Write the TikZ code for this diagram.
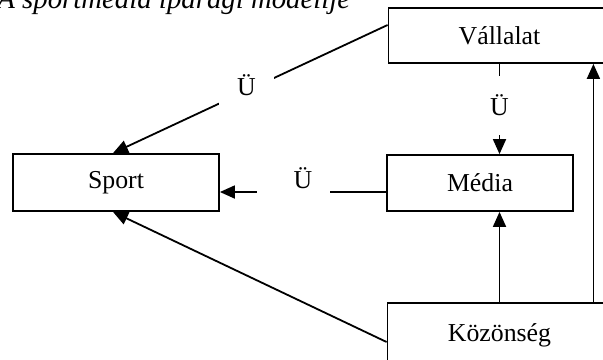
\documentclass[tikz,border=0pt]{standalone}
\usepackage{fontspec}
\setmainfont{Liberation Serif}
\usetikzlibrary{arrows.meta}
\begin{document}
\begin{tikzpicture}[x=0.5pt,y=-0.5pt,
  box/.style={draw, line width=0.9pt, inner sep=0pt, font=\fontsize{12.9}{15}\selectfont},
  conn/.style={line width=0.9pt},
  arr/.style={conn, -{Triangle[length=7.5pt,width=6.5pt]}},
  lab/.style={fill=white, inner sep=0pt, font=\fontsize{12.9}{15}\selectfont}]
\useasboundingbox (0,0) rectangle (603,359);
\fill[white] (0,0) rectangle (603,359);
% title
\node[anchor=base west, inner sep=0pt, font=\fontsize{14.4}{16}\selectfont\itshape] (title) at (-3,8) {A sportmédia iparági modellje};
% boxes
\node[box, minimum width=111pt, minimum height=27.5pt] (V) at (499.5,35.5) {Vállalat};
\node[box, minimum width=103pt, minimum height=28.5pt] (S) at (116,182.5) {Sport};
\node[box, minimum width=93pt, minimum height=28pt] (M) at (480,183) {Média};
\node[box, minimum width=112pt, minimum height=30pt, text depth=0pt] (K) at (499.5,333) {Közönség};
% connectors
\draw[arr] ([yshift=5.25pt]V.west) -- ([xshift=-1.5pt]S.north);
\node[lab, minimum width=27.5pt, minimum height=15pt, text height=6pt, text depth=2pt] (l1) at (246.5,91) {Ü};
\draw[arr] (V.south) -- (V.south |- M.north);
\node[lab, minimum width=10pt, minimum height=29.5pt] (l2) at (499.5,105) {Ü};
\draw[arr] ([yshift=-4.5pt]M.west) -- ([yshift=-4.5pt]M.west -| S.east);
\node[lab, minimum width=36.5pt, minimum height=10pt, text height=0pt, text depth=4pt] (l3) at (293.5,192) {\hspace*{9.5pt}Ü};
\draw[arr] ([yshift=-4.5pt]K.west) -- ([xshift=-1.5pt]S.south);
\draw[arr] (K.north) -- (K.north |- M.south);
\draw[arr] ([xshift=-9.5pt]K.north east) -- ([xshift=-9.5pt]K.north east |- V.south);
\end{tikzpicture}
\end{document}
